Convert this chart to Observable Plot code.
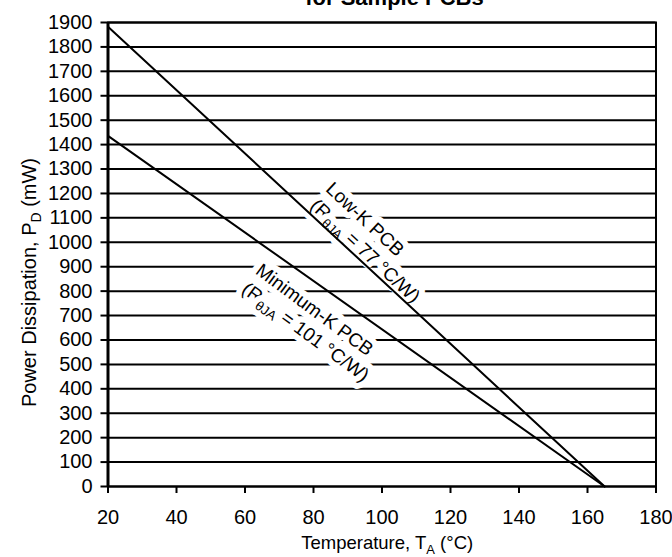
<!DOCTYPE html>
<html>
<head>
<meta charset="utf-8">
<script src="https://cdn.jsdelivr.net/npm/d3@7"></script>
<script src="https://cdn.jsdelivr.net/npm/@observablehq/plot@0.6"></script>
<style>
  html, body { margin: 0; padding: 0; background: #fff; }
  #chart svg { display: block; }
</style>
</head>
<body>
<div id="chart"></div>
<script>
// Ambient temperature (°C) at the ends of each derating line
const temperature = [20, 165];
// Maximum power dissipation (mW) at those temperatures
const lowK = [1883, 0];      // Low-K PCB, RθJA = 77 °C/W
const minimumK = [1436, 0];  // Minimum-K PCB, RθJA = 101 °C/W

// Axis ticks
const temperatureTicks = [20, 40, 60, 80, 100, 120, 140, 160, 180];
const powerTicks = [0, 100, 200, 300, 400, 500, 600, 700, 800, 900, 1000,
  1100, 1200, 1300, 1400, 1500, 1600, 1700, 1800, 1900];

// Text (a "_{...}" part is drawn as a subscript)
const titleText = "for Sample PCBs";
const xLabel = "Temperature, T_{A} (°C)";
const yLabel = "Power Dissipation, P_{D} (mW)";
const lowKLabel = ["Low-K PCB", "(R_{θJA} = 77 °C/W)"];
const minimumKLabel = ["Minimum-K PCB", "(R_{θJA} = 101 °C/W)"];

const lowKRows = temperature.map((t, i) => ({t, p: lowK[i]}));
const minimumKRows = temperature.map((t, i) => ({t, p: minimumK[i]}));

const labelStyle = {
  text: d => d,
  textAnchor: "start",
  lineAnchor: "top",
  lineHeight: 1.22,
  fontSize: 19,
  fill: "black",
  stroke: "white",
  strokeWidth: 12,
  strokeLinejoin: "round"
};

const svg = Plot.plot({
  width: 672,
  height: 557,
  marginLeft: 107.5,
  marginRight: 16.5,
  marginTop: 22,
  marginBottom: 71,
  style: {
    fontFamily: "'Liberation Sans', Arial, sans-serif",
    fontSize: "20px",
    color: "black",
    background: "white",
    overflow: "visible"
  },
  x: {domain: [20, 180]},
  y: {domain: [0, 1900]},
  marks: [
    Plot.ruleY(powerTicks, {stroke: "black", strokeWidth: 2}),
    Plot.text([lowKLabel.join("\n")], {...labelStyle, x: () => 86.6, y: () => 1262, rotate: 43}),
    Plot.text([minimumKLabel.join("\n")], {...labelStyle, x: () => 65.6, y: () => 928, rotate: 36.5}),
    Plot.line(lowKRows, {x: "t", y: "p", stroke: "black", strokeWidth: 2}),
    Plot.line(minimumKRows, {x: "t", y: "p", stroke: "black", strokeWidth: 2}),
    Plot.frame({stroke: "black", strokeWidth: 2}),
    Plot.ruleX([20], {stroke: "black", strokeWidth: 3}),
    Plot.axisX({ticks: temperatureTicks, tickFormat: d => String(d), tickSize: 7, tickPadding: 16.5,
      fontSize: 20, strokeWidth: 2, strokeOpacity: 1, fill: "black", label: null}),
    Plot.axisY({ticks: powerTicks, tickFormat: d => String(d), tickSize: 7, tickPadding: 8.5,
      fontSize: 20, strokeWidth: 2, strokeOpacity: 1, fill: "black", label: null}),
    Plot.text([titleText], {text: d => d, frameAnchor: "top", textAnchor: "middle", dx: 12.5, dy: -18,
      lineAnchor: "bottom", fontSize: 22, fontWeight: "bold", fill: "black"}),
    Plot.text([xLabel], {text: d => d, frameAnchor: "bottom", textAnchor: "start", dx: -80.8, dy: 62.5,
      lineAnchor: "bottom", fontSize: 18.5, fill: "black"}),
    Plot.text([yLabel], {text: d => d, frameAnchor: "left", textAnchor: "middle", rotate: -90, dx: -72.5, dy: 28,
      lineAnchor: "bottom", fontSize: 20, fill: "black"})
  ]
});

document.getElementById("chart").append(svg);

// Turn "_{...}" parts of labels into lowered, smaller tspans
const SVG_NS = "http://www.w3.org/2000/svg";
svg.querySelectorAll("text, tspan").forEach(el => {
  if (el.childElementCount) return;
  const s = el.textContent;
  if (!s.includes("_{")) return;
  const fs = parseFloat(getComputedStyle(el).fontSize);
  const shift = fs * 0.25;
  let lowered = false;
  el.textContent = "";
  s.split(/(_\{[^}]*\})/).forEach(part => {
    if (!part) return;
    const t = document.createElementNS(SVG_NS, "tspan");
    if (part.startsWith("_{")) {
      t.textContent = part.slice(2, -1);
      t.setAttribute("font-size", fs * 0.7);
      t.setAttribute("dy", shift);
      lowered = true;
    } else {
      t.textContent = part;
      if (lowered) t.setAttribute("dy", -shift);
      lowered = false;
    }
    el.append(t);
  });
});
</script>
</body>
</html>
